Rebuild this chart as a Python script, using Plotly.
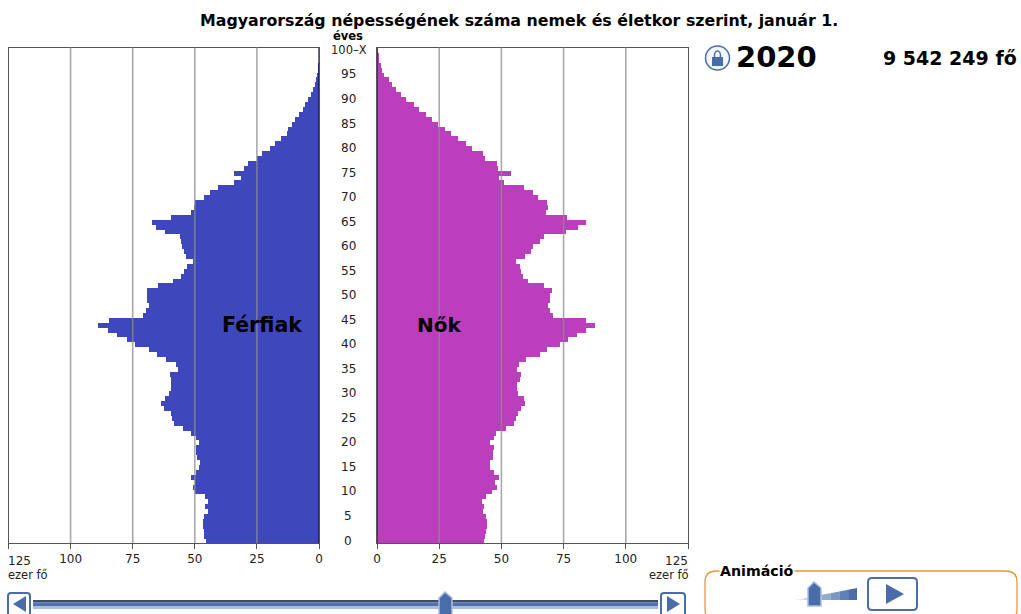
import plotly.graph_objects as go

W, H = 1021, 614

ages = list(range(0, 101))
# values in thousands, listed from age 0 to age 100
men = [45.8,46.4,46.6,47,47,46.4,45,46,45,46,50,50.9,50,51.7,49.6,48.4,48,49.3,49.6,49.7,
       48.4,49.6,51.7,54.9,58.7,59.4,59.8,62.7,63.9,62.2,60.6,59.8,59.8,59.8,60,57.1,57.9,61.8,65.5,68.5,
       74.1,77.3,81.5,85.1,89.1,84.8,71,69.9,68.7,69.4,69.4,69.3,65.1,58.8,55.9,54.7,53.3,50.9,53.6,54.7,
       55.2,55.6,56.3,62.2,66,67.3,59.6,51.7,50.4,50.1,46.6,44.2,40.9,34.6,31.6,34.6,30.4,28.7,25.2,23.2,
       19.8,17.8,15.4,13.1,12.5,11.1,9.8,8.2,6.8,5.8,4.8,3.5,2.7,2,1.5,1.1,0.7,0.5,0.2,0.1,0.05]
women = [43.1,43.5,43.8,44.2,44.3,44,42.7,43.1,42.3,43.7,46.4,48.4,47.4,49,46.9,45.3,45.3,46.6,46.6,46.9,
         45.3,46.9,47.7,52,54.9,56,56.5,57.9,59.6,59,56.7,56.1,56.1,57.6,57.7,56.1,56.9,60,65.4,68.3,
         73.4,76.6,80.4,83.9,87.8,83.9,70.9,69.7,68.9,69.7,69.7,70.5,67.1,60.8,58.5,57.9,57.5,55.7,59.5,62,
         62.8,65.4,67.1,75.8,80.9,83.9,76.4,67.9,68.9,68.5,64.6,62.8,59,51,49,54,48.8,48.1,43.3,42.7,
         38.2,35.6,32.7,29.7,27.2,24.4,22,19.7,16.7,15,11.8,9.6,7.5,6.2,4.7,2.8,2.1,1.5,0.8,0.5,0.1]
x_ticks = [0, 25, 50, 75, 100, 125]
x_tick_labels = ["0", "25", "50", "75", "100", ""]
age_ticks = list(range(0, 100, 5))
title_text = "Magyarország népességének száma nemek és életkor szerint, január 1."

MAN = "#3F47BD"
WOMAN = "#BB3EBC"
UI = "#4A6CA8"
FONT = "DejaVu Sans"

L0, L1, R0, R1, TOP, BOT = 8.5, 319.0, 377.0, 688.0, 47.5, 543.0

def px(x): return x / W
def py(y): return 1 - y / H

fig = go.Figure()
fig.add_trace(go.Bar(x=men, y=ages, orientation="h", width=1, marker=dict(color=MAN, line_width=0),
                     xaxis="x", yaxis="y", showlegend=False))
fig.add_trace(go.Bar(x=women, y=ages, orientation="h", width=1, marker=dict(color=WOMAN, line_width=0),
                     xaxis="x2", yaxis="y2", showlegend=False))

x_common = dict(tickmode="array", tickvals=x_ticks, ticktext=x_tick_labels, ticks="outside", ticklen=5,
                tickcolor="#555555", showgrid=False, zeroline=False, showline=True, linecolor="#555555",
                linewidth=1, mirror=True, tickfont=dict(family=FONT, size=12, color="#222222"))
y_common = dict(range=[-0.5, 100.5], showticklabels=False, ticks="", showgrid=False, zeroline=False,
                domain=[py(BOT), py(TOP)], showline=True, linecolor="#555555", linewidth=1, mirror=True)

shapes = []
annotations = []

def rect(x0, y0, x1, y1, fill, line=None, w=0):
    shapes.append(dict(type="rect", xref="paper", yref="paper", x0=px(x0), x1=px(x1), y0=py(y0), y1=py(y1),
                       fillcolor=fill, line=dict(color=line or fill, width=w), layer="above"))

def poly(points, fill, line=None, w=0):
    d = "M " + " L ".join(f"{px(a):.5f},{py(b):.5f}" for a, b in points) + " Z"
    shapes.append(dict(type="path", xref="paper", yref="paper", path=d, fillcolor=fill,
                       line=dict(color=line or fill, width=w), layer="above"))

def rounded(x0, y0, x1, y1, r, line, w, fill="rgba(0,0,0,0)"):
    def p(a, b): return f"{px(a):.5f},{py(b):.5f}"
    d = (f"M {p(x0 + r, y0)} L {p(x1 - r, y0)} Q {p(x1, y0)} {p(x1, y0 + r)} L {p(x1, y1 - r)} "
         f"Q {p(x1, y1)} {p(x1 - r, y1)} L {p(x0 + r, y1)} Q {p(x0, y1)} {p(x0, y1 - r)} "
         f"L {p(x0, y0 + r)} Q {p(x0, y0)} {p(x0 + r, y0)} Z")
    shapes.append(dict(type="path", xref="paper", yref="paper", path=d, fillcolor=fill,
                       line=dict(color=line, width=w), layer="above"))

def text(x, y, s, size, bold=False, color="#000000", anchor="center", family=FONT, bg=None):
    a = dict(xref="paper", yref="paper", x=px(x), y=py(y), text=f"<b>{s}</b>" if bold else s, showarrow=False,
             font=dict(family=family, size=size, color=color), xanchor=anchor, yanchor="middle",
             xshift=0, borderpad=0)
    if bg:
        a["bgcolor"] = bg
    annotations.append(a)

# gridlines above the bars, placed through the value axes
for v in x_ticks[1:-1]:
    for xr in ("x", "x2"):
        shapes.append(dict(type="line", xref=xr, yref="paper", x0=v, x1=v, y0=py(BOT), y1=py(TOP),
                           line=dict(color="rgba(140,140,140,0.75)", width=1.6), layer="above"))
# darker baselines at zero
shapes.append(dict(type="line", xref="x", yref="paper", x0=0, x1=0, y0=py(BOT), y1=py(TOP),
                   line=dict(color="#111133", width=1.2), layer="above"))
shapes.append(dict(type="line", xref="x2", yref="paper", x0=0, x1=0, y0=py(BOT), y1=py(TOP),
                   line=dict(color="#4A2A55", width=1.6), layer="above"))

# age labels, placed through the age axis
for a in age_ticks:
    annotations.append(dict(xref="paper", yref="y", x=px(348), y=a, text=str(a), showarrow=False,
                            font=dict(family=FONT, size=12, color="#222222"), xanchor="center", yanchor="middle"))
annotations.append(dict(xref="paper", yref="y", x=px(349), y=100, text="100–X", showarrow=False,
                        font=dict(family=FONT, size=11.5, color="#222222"), xanchor="center", yanchor="middle"))
text(348, 36, "éves", 11.5, bold=True)

text(518.5, 20, title_text, 15.8, bold=True)
text(7, 561, "125", 12, color="#222222", anchor="left")
text(688.5, 561, "125", 12, color="#222222", anchor="right")
text(7, 575, "ezer fő", 11.5, color="#222222", anchor="left")
text(690, 575, "ezer fő", 11.5, color="#222222", anchor="right")
text(262, 325, "Férfiak", 20.5, bold=True)
text(439, 325, "Nők", 20, bold=True)

# year header
shapes.append(dict(type="circle", xref="paper", yref="paper", x0=px(705.5), x1=px(729.5), y0=py(70), y1=py(46),
                   fillcolor="#F2F5FA", line=dict(color=UI, width=1.5), layer="above"))
rect(712, 57, 723, 66, UI)
shapes.append(dict(type="circle", xref="paper", yref="paper", x0=px(714.5), x1=px(720.5), y0=py(60), y1=py(51),
                   fillcolor="rgba(0,0,0,0)", line=dict(color=UI, width=1.5), layer="above"))
text(776, 57, "2020", 29, bold=True)
text(1018, 58, "9 542 249 fő", 19, bold=True, anchor="right")

# timeline slider
rect(33, 600, 658, 602.5, "#3E4A66")
rect(33, 602.5, 658, 606.5, "#4F73B0")
rect(33, 606.5, 658, 609, "#A9BEDD")
rounded(8, 593, 30, 616, 3, UI, 2, "#FFFFFF")
poly([(13, 604), (26, 596), (26, 612)], UI)
rounded(661, 593, 685, 616, 3, UI, 2, "#FFFFFF")
poly([(680, 604), (667, 596), (667, 612)], UI)
poly([(439, 598), (445, 592), (452, 598), (452, 616), (439, 616)], UI, "#A9BEDD", 1.5)

# animation panel
rounded(705, 571, 1017, 620, 11, "#E8963C", 1.3)
text(756.5, 571, "Animáció", 14.2, bold=True, bg="#FFFFFF")
wedge = ["#E4EAF4", "#C9D5E8", "#AFC0DC", "#94ABD0", "#7A96C4", "#6081B8", "#4A6CA8"]
for i, c in enumerate(wedge):
    xa = 795 + i * 62 / 7
    xb = 795 + (i + 1) * 62 / 7
    poly([(xa, 600 - i * 12 / 7), (xb, 600 - (i + 1) * 12 / 7), (xb, 600), (xa, 600)], c)
poly([(808, 588), (814, 582), (821, 588), (821, 606), (808, 606)], UI, "#A9BEDD", 1.5)
rounded(868, 578, 917, 610, 4, UI, 2, "#FFFFFF")
poly([(886, 584), (904, 594), (886, 604)], UI)

fig.update_layout(
    width=W, height=H, margin=dict(l=0, r=0, t=0, b=0, autoexpand=False), autosize=False,
    paper_bgcolor="#FFFFFF", plot_bgcolor="#FFFFFF", bargap=0,
    xaxis=dict(range=[125, 0], domain=[px(L0), px(L1)], anchor="y", **x_common),
    xaxis2=dict(range=[0, 125], domain=[px(R0), px(R1)], anchor="y2", **x_common),
    yaxis=dict(anchor="x", **y_common),
    yaxis2=dict(anchor="x2", **y_common),
    shapes=shapes, annotations=annotations,
)
fig.write_html("out.html", config=dict(displayModeBar=False),
               post_script="document.body.style.margin='0';document.documentElement.style.overflow='hidden';")
